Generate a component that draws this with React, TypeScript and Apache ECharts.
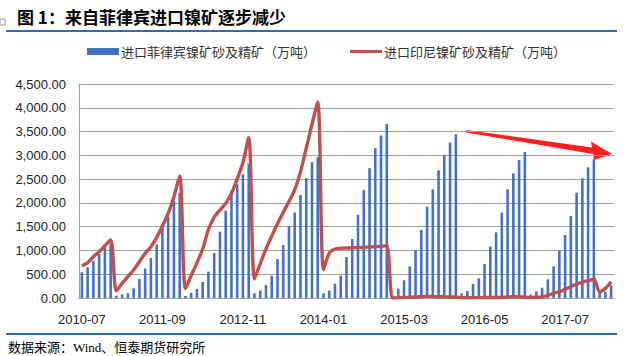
import React, { useEffect, useRef } from "react";
import * as echarts from "echarts";

const months: string[] = [];
(() => {
  let y = 2010;
  let m = 7;
  for (let i = 0; i < 93; i++) {
    months.push(`${y}-${m < 10 ? "0" + m : m}`);
    m++;
    if (m > 12) {
      m = 1;
      y++;
    }
  }
})();

const seriesPhName = "进口菲律宾镍矿砂及精矿（万吨）";
const seriesIdName = "进口印尼镍矿砂及精矿（万吨）";

const philippines: number[] = [
  // 2010 Jul-Dec
  540, 645, 785, 925, 1066, 1150,
  // 2011
  48, 75, 99, 204, 400, 620, 840, 1129, 1514, 1710, 2046, 2215,
  // 2012
  42, 112, 189, 336, 554, 946, 1395, 1837, 2250, 2390, 2600, 2825,
  // 2013
  98, 154, 273, 469, 819, 1113, 1505, 1799, 2163, 2520, 2856, 2961,
  // 2014
  98, 154, 301, 469, 861, 1239, 1750, 2268, 2730, 3150, 3416, 3661,
  // 2015
  25, 196, 372, 666, 1002, 1430, 1921, 2285, 2685, 3007, 3267, 3442,
  // 2016
  98, 147, 294, 414, 715, 1080, 1381, 1795, 2285, 2622, 2902, 3070,
  // 2017
  70, 140, 217, 393, 666, 995, 1325, 1724, 2215, 2517, 2748, 2916,
  // 2018 Jan-Mar
  140, 133, 266,
];

const indonesia: number[] = [
  // 2010 Jul-Dec
  673, 743, 869, 974, 1100, 1220,
  // 2011
  150, 308, 449, 589, 764, 939, 1080, 1276, 1514, 1781, 2131, 2566,
  // 2012
  196, 470, 740, 1030, 1440, 1700, 1850, 1990, 2200, 2500, 2850, 3372,
  // 2013
  400, 720, 1030, 1300, 1560, 1800, 2030, 2280, 2650, 3150, 3650, 4120,
  // 2014
  595, 945, 1030, 1045, 1050, 1055, 1060, 1065, 1075, 1080, 1085, 1100,
  // 2015
  0, 5, 10, 15, 20, 30, 35, 35, 25, 25, 20, 20,
  // 2016
  5, 5, 5, 8, 10, 10, 10, 12, 20, 28, 25, 15,
  // 2017
  10, 15, 25, 56, 98, 133, 182, 238, 294, 336, 364, 393,
  // 2018 Jan-Mar
  133, 203, 343,
];

const titleText = "图 1：来自菲律宾进口镍矿逐步减少";
const footerText = "数据来源：Wind、恒泰期货研究所";

function fmt(v: number): string {
  const s = v.toFixed(2);
  const [i, d] = s.split(".");
  return i.replace(/\B(?=(\d{3})+(?!\d))/g, ",") + "." + d;
}

export default function App() {
  const ref = useRef<HTMLDivElement>(null);
  useEffect(() => {
    if (!ref.current) return;
    const chart = echarts.init(ref.current, undefined, { renderer: "svg" });
    const cjk = "'Noto Sans CJK SC', 'Noto Sans', sans-serif";
    const latin = "'Liberation Sans', Arial, sans-serif";
    chart.setOption({
      animation: false,
      backgroundColor: "#ffffff",
      grid: { left: 79, right: 13, top: 84, bottom: 58, containLabel: false },
      legend: [
        {
          data: [{ name: seriesPhName, icon: "rect" }],
          left: 82,
          top: 40,
          itemWidth: 32,
          itemHeight: 7,
          textStyle: { fontSize: 13, color: "#333", fontFamily: cjk, padding: [0, 0, 0, -3] },
        },
        {
          data: [{ name: seriesIdName, icon: "rect" }],
          left: 345,
          top: 40,
          itemWidth: 32,
          itemHeight: 3,
          textStyle: { fontSize: 13, color: "#333", fontFamily: cjk, padding: [0, 0, 0, -3] },
        },
      ],
      xAxis: {
        type: "category",
        data: months,
        boundaryGap: true,
        axisLine: { lineStyle: { color: "#a0a0a0", width: 1 } },
        axisTick: {
          interval: 13,
          length: 5,
          alignWithLabel: false,
          lineStyle: { color: "#a0a0a0" },
        },
        axisLabel: {
          interval: 13,
          margin: 15,
          fontSize: 13,
          color: "#222",
          fontFamily: latin,
        },
        splitLine: { show: false },
      },
      yAxis: {
        type: "value",
        min: 0,
        max: 4500,
        interval: 500,
        axisLine: { show: true, lineStyle: { color: "#a0a0a0" } },
        axisTick: { show: false },
        axisLabel: {
          formatter: (v: number) => fmt(v),
          margin: 13,
          fontSize: 13,
          color: "#222",
          fontFamily: latin,
        },
        splitLine: { lineStyle: { color: "#a0a0a0", width: 1 } },
      },
      series: [
        {
          name: seriesPhName,
          type: "bar",
          data: philippines,
          barWidth: "45%",
          itemStyle: { color: "#4472c4" },
        },
        {
          name: seriesIdName,
          type: "line",
          data: indonesia,
          symbol: "none",
          smooth: 0.3,
          lineStyle: { color: "#c0504d", width: 3.4 },
          itemStyle: { color: "#c0504d" },
        },
      ],
      graphic: [
        {
          type: "text",
          x: 17,
          y: 16,
          style: {
            text: titleText,
            font: `bold 17px ${cjk}`,
            fill: "#000",
            textVerticalAlign: "middle",
            textAlign: "left",
          },
        },
        {
          type: "rect",
          shape: { x: 0, y: 19, width: 5, height: 6 },
          style: { fill: "#fff", stroke: "#9a9a9a", lineWidth: 1 },
        },
        {
          type: "line",
          shape: { x1: 6, y1: 31, x2: 617, y2: 31 },
          style: { stroke: "#2e6db4", lineWidth: 2 },
        },
        {
          type: "line",
          shape: { x1: 6, y1: 334, x2: 617, y2: 334 },
          style: { stroke: "#2e6db4", lineWidth: 2 },
        },
        {
          type: "text",
          x: 8,
          y: 347,
          style: {
            text: footerText,
            font: `13px 'Liberation Serif', 'Noto Sans CJK SC', serif`,
            fill: "#000",
            textVerticalAlign: "middle",
            textAlign: "left",
          },
        },
        {
          type: "polygon",
          shape: {
            points: [
              [466, 130],
              [592, 147.5],
              [591, 141.5],
              [612, 154],
              [594, 160],
              [593, 154],
              [466, 132.5],
            ],
          },
          style: { fill: "#ff1f1f" },
        },
      ],
    });
    return () => chart.dispose();
  }, []);
  return (
    <div
      ref={ref}
      style={{ position: "fixed", left: 0, top: 0, width: 627, height: 356 }}
    />
  );
}
